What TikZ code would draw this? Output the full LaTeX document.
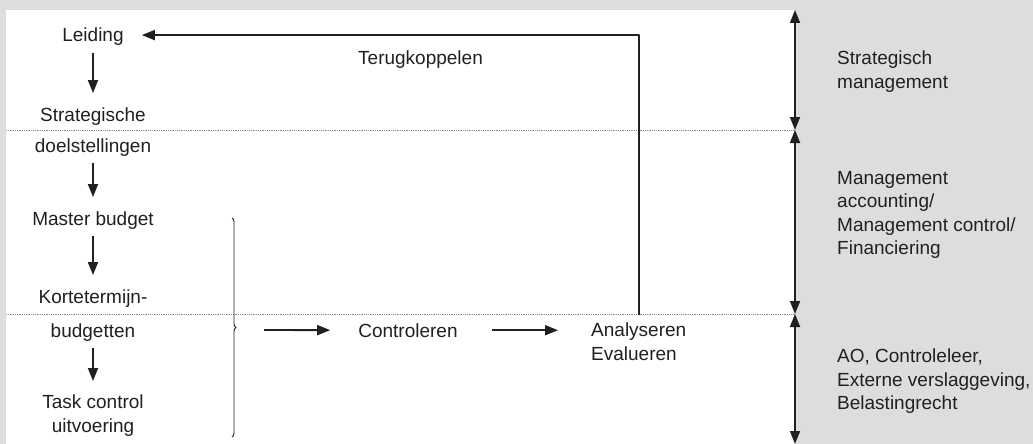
\documentclass[tikz,border=0pt]{standalone}
\usepackage{fontspec}
\setmainfont{Liberation Sans}
\usetikzlibrary{arrows.meta,decorations.pathreplacing}
\definecolor{panel}{RGB}{220,221,223}
\definecolor{ink}{RGB}{35,31,32}
\tikzset{
	txt/.style={inner sep=0pt,text=ink},
	flow/.style={->,draw=ink,line width=1.8pt},
	down/.style={flow,shorten <=7pt,shorten >=14pt},
	span/.style={<->,draw=ink,line width=1.8pt},
	sep/.style={draw=black!45,line width=0.7pt,dash pattern=on 0.7pt off 1.1pt}
}
\begin{document}
\begin{tikzpicture}[>={Triangle[length=13pt,width=10pt]},line join=round,x=1pt,y=-1pt,font=\fontsize{19pt}{23.5pt}\selectfont]
	\useasboundingbox (0,0) rectangle (1033,444);
	\fill[panel] (0,0) rectangle (1033,444);
	\fill[white] (6,10) rectangle (795,444);
	\draw[sep] (6,130)--(795,130) (6,314)--(795,314);
	\node[txt,anchor=base] (leid) at (93,42) {Leiding};
	\node[txt,anchor=base] (strat) at (93,121) {Strategische};
	\node[txt,anchor=base] (doel) at (93,152) {doelstellingen};
	\node[txt,anchor=base] (master) at (93,225) {Master budget};
	\node[txt,anchor=base] (korte) at (93,303) {Kortetermijn-};
	\node[txt,anchor=base] (budg) at (93,337) {budgetten};
	\node[txt,anchor=north,align=center] (task) at (93,395) {Task control\\uitvoering};
	\draw[down] (leid)--(strat);
	\draw[down] (doel)--(master);
	\draw[down] (master)--(korte);
	\draw[down] (budg)--(task);
	\coordinate (btop) at (232,218);
	\coordinate (bbot) at (232,437);
	\coordinate (btip) at (236,330);
	\draw[ink,line width=0.9pt,decorate,decoration={brace,amplitude=4pt}] (btop)--(bbot);
	\node[txt,anchor=base] (ctrl) at (408,337) {Controleren};
	\node[txt,anchor=north west,align=left] (anal) at (591,323) {Analyseren\\Evalueren};
	\node[txt,anchor=base west] (terug) at (358,65) {Terugkoppelen};
	\draw[flow,shorten <=28pt,shorten >=28pt] (btip)--(ctrl.west);
	\draw[flow,shorten <=34pt,shorten >=33pt] (ctrl)--(ctrl -| anal.west);
	\draw[flow,shorten <=8pt,shorten >=18pt] (anal.north) |- ([yshift=2pt]leid.east);
	\coordinate (s0) at (795,10);
	\coordinate (s1) at (795,130);
	\coordinate (s2) at (795,314);
	\coordinate (s3) at (795,444);
	\draw[span] (s0)--(s1);
	\draw[span] (s1)--(s2);
	\draw[span] (s2)--(s3);
	\node[txt,anchor=north west,align=left] (strman) at (837,51) {Strategisch\\management};
	\node[txt,anchor=north west,align=left] (macc) at (837,171) {Management\\accounting/\\Management control/\\Financiering};
	\node[txt,anchor=north west,align=left] (aoleer) at (837,349) {AO, Controleleer,\\Externe verslaggeving,\\Belastingrecht};
\end{tikzpicture}
\end{document}
